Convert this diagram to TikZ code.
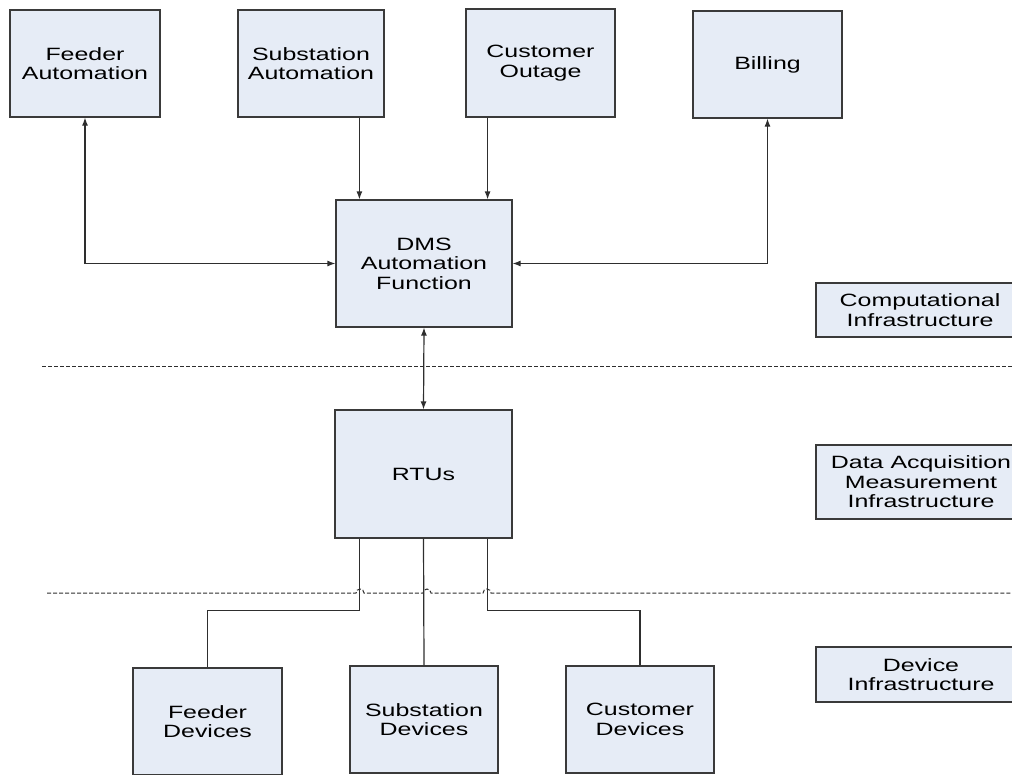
\documentclass[tikz,border=0pt]{standalone}
\usepackage{fontspec}
\setmainfont{Liberation Sans}[FakeStretch=1.4]
\usetikzlibrary{arrows.meta}

\tikzset{blk/.style 2 args = {
    rectangle,
    minimum width = #1,
    minimum height = #2,
    inner sep = 0pt,
    fill = BF,
    draw = BL,
    line width = 1.2pt,
    align = center,
}}
\tikzset{wire/.style = {
    draw = WL,
    line width = 1.2pt,
    >={Latex[length=8pt,width=6pt]},
    ->,
}}
\tikzset{zone/.style = {
    WL,
    line width = 1pt,
    dash pattern = on 4pt off 2pt,
}}
\definecolor{BF}{HTML}{E6ECF6}
\definecolor{BL}{HTML}{3A3A3A}
\definecolor{WL}{HTML}{2E2E2E}

\begin{document}
\begin{tikzpicture}[x=1pt,y=-1pt]
  \fontsize{17.8}{19.4}\selectfont
  \useasboundingbox (0,0) rectangle (1012,774);
  \clip (0,0) rectangle (1012,774);
  \node[blk={150pt}{107pt}](fa) at ( 85.0, 63.5) {Feeder\\Automation};
  \node[blk={146pt}{107pt}](sa) at (311.0, 63.5) {Substation\\Automation};
  \node[blk={149pt}{108pt}](co) at (540.5, 63.0) {Customer\\Outage};
  \node[blk={149pt}{107pt}](bi) at (767.5, 64.5) {Billing};
  \node[blk={176pt}{127pt}](dms) at (424.0,263.5) {DMS\\Automation\\Function};
  \node[blk={177pt}{128pt}](rtu) at (423.5,474.0) {RTUs};
  \node[blk={149pt}{107pt}](fd) at (207.5,721.5) {Feeder\\Devices};
  \node[blk={148pt}{107pt}](sd) at (424.0,719.5) {Substation\\Devices};
  \node[blk={148pt}{107pt}](cd) at (640.0,719.5) {Customer\\Devices};
  \node[blk={208pt}{54pt}](comp) at (920.0,310.0) {Computational\\Infrastructure};
  \node[blk={210pt}{74pt}](daq) at (921.0,482.0) {Data Acquisition\\Measurement\\Infrastructure};
  \node[blk={210pt}{55pt}](dev) at (921.0,674.5) {Device\\Infrastructure};
  % layer borders
  \draw[zone] (42,366) -- (1012,366);
  \draw[zone] (47,593) -- (356,593) arc (180:360:4)
    -- (423,593) arc (180:360:4) -- (483,593) arc (180:360:4) -- (1012,593);
  % links
  \draw[wire,<->] (fa.south) |- (dms.west);
  \draw[wire] ([xshift=24pt]dms.north west |- sa.south) -- ([xshift=24pt]dms.north west);
  \draw[wire] ([xshift=-25pt]dms.north east |- co.south) -- ([xshift=-25pt]dms.north east);
  \draw[wire,<->] (bi.south) |- (dms.east);
  \draw[wire,<->] (dms.south) -- (rtu.north);
  \draw[wire,-] ([xshift=25pt]rtu.south west) -- ++(0,72) -| (fd.north);
  \draw[wire,-] (rtu.south) -- (sd.north);
  \draw[wire,-] ([xshift=-25pt]rtu.south east) -- ++(0,72) -| (cd.north);
\end{tikzpicture}
\end{document}
